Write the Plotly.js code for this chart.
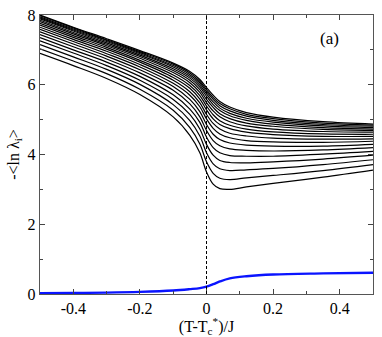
<!DOCTYPE html>
<html><head><meta charset="utf-8">
<script src="https://cdn.plot.ly/plotly-3.0.1.min.js"></script>
<style>html,body{margin:0;padding:0;background:#fff}#plot{width:382px;height:337px}
#plot text{font-family:"Liberation Serif",serif !important}</style>
</head><body><div id="plot"></div>
<script>
const xs = [-0.5,-0.4,-0.3,-0.2,-0.1,-0.05,-0.02,0,0.02,0.04,0.07,0.12,0.2,0.35,0.5];
const c00 = [6.90,6.55,6.18,5.72,5.08,4.55,4.05,3.50,3.15,3.02,3.00,3.07,3.17,3.35,3.55];
const c01 = [7.03,6.68,6.32,5.87,5.27,4.77,4.30,3.79,3.46,3.32,3.28,3.33,3.40,3.54,3.71];
const c02 = [7.15,6.80,6.44,6.01,5.43,4.97,4.53,4.05,3.73,3.59,3.54,3.56,3.60,3.71,3.85];
const c03 = [7.26,6.91,6.55,6.13,5.58,5.15,4.73,4.29,3.98,3.83,3.77,3.76,3.79,3.87,3.98];
const c04 = [7.35,7.00,6.65,6.24,5.71,5.30,4.92,4.50,4.20,4.05,3.97,3.95,3.95,4.01,4.09];
const c05 = [7.44,7.09,6.74,6.34,5.84,5.45,5.08,4.69,4.40,4.25,4.16,4.12,4.10,4.13,4.20];
const c06 = [7.52,7.17,6.82,6.43,5.95,5.58,5.23,4.86,4.58,4.43,4.33,4.27,4.24,4.24,4.29];
const c07 = [7.59,7.24,6.89,6.51,6.04,5.70,5.37,5.02,4.75,4.59,4.48,4.40,4.36,4.35,4.38];
const c08 = [7.65,7.30,6.96,6.58,6.13,5.80,5.48,5.15,4.89,4.73,4.61,4.53,4.47,4.44,4.45];
const c09 = [7.71,7.36,7.02,6.65,6.21,5.90,5.59,5.28,5.02,4.86,4.74,4.64,4.57,4.52,4.52];
const c10 = [7.76,7.41,7.07,6.70,6.28,5.98,5.69,5.39,5.14,4.97,4.84,4.73,4.65,4.59,4.58];
const c11 = [7.81,7.46,7.12,6.76,6.35,6.06,5.78,5.49,5.25,5.08,4.94,4.82,4.73,4.66,4.64];
const c12 = [7.85,7.50,7.16,6.81,6.41,6.13,5.86,5.58,5.35,5.17,5.03,4.90,4.81,4.72,4.69];
const c13 = [7.89,7.54,7.20,6.85,6.46,6.19,5.93,5.67,5.43,5.26,5.11,4.98,4.87,4.77,4.73];
const c14 = [7.92,7.57,7.24,6.89,6.51,6.24,5.99,5.74,5.51,5.33,5.18,5.04,4.93,4.82,4.77];
const c15 = [7.95,7.60,7.27,6.92,6.55,6.29,6.05,5.80,5.58,5.40,5.25,5.10,4.98,4.86,4.81];
const c16 = [7.98,7.63,7.29,6.95,6.59,6.34,6.10,5.86,5.64,5.46,5.31,5.15,5.03,4.90,4.84];
const c17 = [8.00,7.65,7.32,6.98,6.62,6.38,6.15,5.92,5.70,5.52,5.36,5.20,5.07,4.94,4.87];
const blue = [0.02,0.03,0.04,0.06,0.10,0.14,0.17,0.21,0.28,0.36,0.45,0.51,0.56,0.59,0.61];
const xTickVals = [-0.4,-0.2,0,0.2,0.4];
const xTickText = ["-0.4","-0.2","0","0.2","0.4"];
const yTickVals = [0,2,4,6,8];
const yTickText = ["0","2","4","6","8"];

const blackCurves = [c00,c01,c02,c03,c04,c05,c06,c07,c08,c09,c10,c11,c12,c13,c14,c15,c16,c17];
const traces = blackCurves.map(c => ({
  x: xs, y: c, type: 'scatter', mode: 'lines',
  line: {color: '#000', width: 1.2, shape: 'spline', smoothing: 1.0},
  hoverinfo: 'skip'
}));
traces.push({x: xs, y: blue, type: 'scatter', mode: 'lines',
  line: {color: '#0a14ff', width: 2.4, shape: 'spline', smoothing: 1.0}});

const FAM = 'Liberation Serif, serif';
function mkAxis(extra) {
  return Object.assign({
    showgrid: false, zeroline: false, showline: true, linecolor: '#555', linewidth: 1.2,
    mirror: 'ticks', ticks: 'inside', ticklen: 5, tickcolor: '#444', tickwidth: 1,
    tickfont: {family: FAM, size: 16, color: '#000'}
  }, extra);
}
const layout = {
  width: 382, height: 337,
  margin: {l: 40, r: 9, t: 15, b: 43},
  paper_bgcolor: '#fff', plot_bgcolor: '#fff',
  showlegend: false, font: {family: FAM, size: 15, color: '#000'},
  xaxis: mkAxis({
    range: [-0.5, 0.5], tickmode: 'array', tickvals: xTickVals, ticktext: xTickText,
    minor: {ticks: 'inside', dtick: 0.1, ticklen: 3, tickcolor: '#444'},
    title: {text: '(T-T<sub>c</sub><sup>*</sup>)/J', font: {family: FAM, size: 16, color: '#000'}, standoff: 4}
  }),
  yaxis: mkAxis({
    range: [0, 8], tickmode: 'array', tickvals: yTickVals, ticktext: yTickText,
    minor: {ticks: 'inside', dtick: 1, ticklen: 3, tickcolor: '#444'},
    title: {text: '-&lt;ln λ<sub>i</sub>&gt;', font: {family: FAM, size: 16, color: '#000'}, standoff: 4}
  }),
  shapes: [{type: 'line', xref: 'x', yref: 'y', x0: 0, x1: 0, y0: 0, y1: 8,
    line: {color: '#000', width: 1, dash: '3px,2px'}}],
  annotations: [{xref: 'x', yref: 'y', x: 0.37, y: 7.33, text: '(a)', showarrow: false,
    font: {family: FAM, size: 17, color: '#000'}}]
};
Plotly.newPlot('plot', traces, layout, {staticPlot: true, displayModeBar: false});
</script></body></html>
